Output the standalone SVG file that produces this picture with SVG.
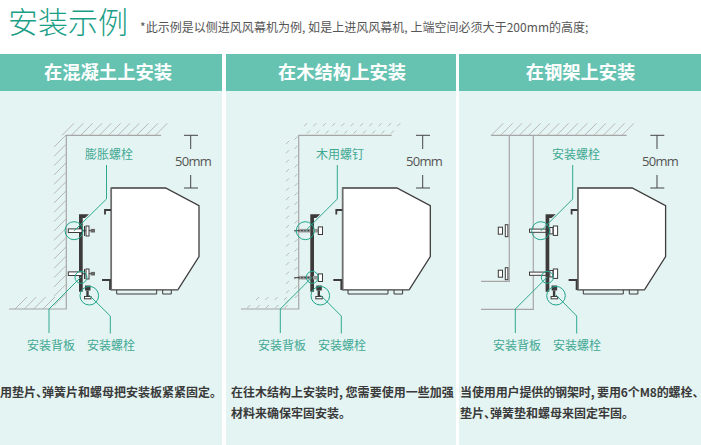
<svg xmlns="http://www.w3.org/2000/svg" xmlns:xlink="http://www.w3.org/1999/xlink" width="701" height="445" viewBox="0 0 701 445">
<style>
text{font-family:"Noto Sans CJK SC","Liberation Sans",sans-serif}
.band{fill:#66c3b2}.body{fill:#e4f4f2}
.hd{font-size:18.3px;font-weight:700;fill:#fff;text-anchor:middle}
.lb{font-size:12px;fill:#3fa893}
.desc{font-size:12px;font-weight:700;fill:#3a3a3a}
.half{font-feature-settings:"halt"}
.mm{font-family:"Open Sans","Liberation Sans",sans-serif;font-size:13px;fill:#555;letter-spacing:-.7px}
.wall{fill:none;stroke:#a6a6a6;stroke-width:1.2}
.hatch{fill:none;stroke:#b9b9b9;stroke-width:1}
.dim{fill:none;stroke:#444;stroke-width:1}
.lead{fill:none;stroke:#2fa890;stroke-width:1}
.ring{fill:none;stroke:#22a68c;stroke-width:1}
.dk{fill:none;stroke:#3c3a3a;stroke-width:1}
.wh{fill:#fff;stroke:#3c3a3a;stroke-width:1}
</style>
<defs>
<g id="unit">
<path d="M111.3,188H165.6L199,205.6V256.6L178,289.7H111.3Z" fill="#fff" stroke="#3f3d3d" stroke-width="1.3"/>
<path d="M111.3,188V289.7H178" fill="none" stroke="#6e6e6e" stroke-width="1.5"/>
<path d="M116.7,290V294H156.7V290M162.7,290V294H171.3V290" class="dk"/>
<path d="M105,214.5V210H111M102,280H110V290" fill="none" stroke="#3c3a3a" stroke-width="1.8"/>
<path d="M79,214.3H89L85,218H82.7V291.7H79Z" fill="#3c3a3a"/>
<rect x="85" y="285.5" width="5.5" height="5" fill="#3c3a3a"/>
<path d="M87.5,290.5V297" stroke="#3c3a3a" stroke-width="2.4"/>
<rect x="84.5" y="296.5" width="6.5" height="2.3" class="wh"/>
</g>
<g id="dims">
<path d="M184,135.3H198M190.7,135.3V149M190.7,175V188M184,188H198" class="dim"/>
</g>
<g id="boltA">
<rect x="68.3" y="-1.8" width="13.7" height="3.6" class="wh"/>
<path d="M82,0H91M84.5,-4.7V5.3" class="dk"/>
<rect x="86" y="-4.7" width="3" height="10" class="wh"/>
<rect x="90.7" y="-1.8" width="4.3" height="3.6" fill="#666"/>
</g>
<g id="boltB">
<path d="M294,0H300" stroke="#555" stroke-width="1.2"/>
<rect x="298" y="-1.8" width="12" height="3.6" fill="#9a9a9a"/>
<path d="M298,0H310" stroke="#3c3a3a" stroke-width="1.2" stroke-dasharray="1.6 1.6"/>
<rect x="313" y="-1.8" width="5.3" height="3.6" fill="#9a9a9a"/>
<rect x="318.3" y="-3.8" width="4.2" height="7.6" class="wh"/>
</g>
<g id="boltC">
<rect x="529.5" y="-1.6" width="16.5" height="3.2" class="wh"/>
<rect x="549.8" y="-3.2" width="3.2" height="6.4" class="wh"/>
<rect x="553.3" y="-4.7" width="4.3" height="9.4" class="wh"/>
<rect x="498.3" y="-3.5" width="4.2" height="7" class="wh"/>
<rect x="505.3" y="-6" width="2.6" height="12" class="wh"/>
</g>
</defs>
<rect width="701" height="445" fill="#fff"/>
<g id="title">
<text x="8" y="33" font-size="30" font-weight="300" fill="#1a9e87">安装示例</text>
<text x="140" y="32" font-size="12" fill="#555" letter-spacing=".03">*此示例是以侧进风风幕机为例, 如是上进风风幕机, 上端空间必须大于200mm的高度;</text>
</g>
<g id="panel1">
<rect class="body" x="0" y="91" width="222" height="354"/>
<rect class="band" x="0" y="54" width="222" height="37"/>
<text class="hd" x="108" y="79">在混凝土上安装</text>
<path class="hatch" d="M62,135.3l12-12m-2.67,12l12-12m-2.67,12l12-12m-2.67,12l12-12m-2.67,12l12-12m-2.67,12l12-12m-2.67,12l12-12m-2.67,12l12-12m-2.67,12l12-12m-2.67,12l12-12m-2.67,12l12-12"/>
<path class="hatch" d="M54,147l12-12m-12,21.33l12-12m-12,21.33l12-12m-12,21.33l12-12m-12,21.33l12-12m-12,21.33l12-12m-12,21.33l12-12m-12,21.33l12-12m-12,21.33l12-12m-12,21.33l12-12m-12,21.33l12-12m-12,21.33l12-12m-12,21.33l12-12m-12,21.33l12-12m-12,21.33l12-12m-12,21.33l12-12m-12,21.33l12-12m-12,21.33l12-12"/>
<path class="hatch" d="M15,309l12-12m-2.67,12l12-12m-2.67,12l12-12m-2.67,12l12-12"/>
<path class="wall" d="M161,135.3H66.3V309H9"/>
<use xlink:href="#dims" href="#dims"/>
<text class="mm" x="175" y="166">50mm</text>
<use xlink:href="#unit" href="#unit"/>
<use xlink:href="#boltA" href="#boltA" y="230.7"/>
<use xlink:href="#boltA" href="#boltA" y="273.7"/>
<text class="lb" x="85" y="159">膨胀螺栓</text>
<text class="lb" x="27" y="349.5">安装背板</text>
<text class="lb" x="87" y="349.5">安装螺栓</text>
<text class="desc" x="0" y="397">用垫片<tspan class="half">、</tspan>弹簧片和螺母把安装板紧紧固定。</text>
</g>
<g id="panel2">
<rect class="body" x="226" y="91" width="230" height="354"/>
<rect class="band" x="226" y="54" width="230" height="37"/>
<text class="hd" x="342" y="79">在木结构上安装</text>
<path class="hatch" d="M304,126.2l3-3m6.33,3l3-3m6.33,3l3-3m6.33,3l3-3m6.33,3l3-3m6.33,3l3-3m6.33,3l3-3m6.33,3l3-3m6.33,3l3-3m6.33,3l3-3m6.33,3l3-3"/>
<path class="hatch" d="M307,133.5l3-3m6.33,3l3-3m6.33,3l3-3m6.33,3l3-3m6.33,3l3-3m6.33,3l3-3m6.33,3l3-3m6.33,3l3-3m6.33,3l3-3m6.33,3l3-3"/>
<path class="hatch" d="M286,144l3-3m-3,12.33l3-3m-3,12.33l3-3m-3,12.33l3-3m-3,12.33l3-3m-3,12.33l3-3m-3,12.33l3-3m-3,12.33l3-3m-3,12.33l3-3m-3,12.33l3-3m-3,12.33l3-3m-3,12.33l3-3m-3,12.33l3-3m-3,12.33l3-3m-3,12.33l3-3m-3,12.33l3-3m-3,12.33l3-3m-3,12.33l3-3"/>
<path class="hatch" d="M294.5,139.5l3-3m-3,12.33l3-3m-3,12.33l3-3m-3,12.33l3-3m-3,12.33l3-3m-3,12.33l3-3m-3,12.33l3-3m-3,12.33l3-3m-3,12.33l3-3m-3,12.33l3-3m-3,12.33l3-3m-3,12.33l3-3m-3,12.33l3-3m-3,12.33l3-3m-3,12.33l3-3m-3,12.33l3-3m-3,12.33l3-3m-3,12.33l3-3"/>
<path class="hatch" d="M256,300l3-3m6.33,3l3-3m6.33,3l3-3m6.33,3l3-3"/>
<path class="hatch" d="M247.3,308l3-3m6.33,3l3-3m6.33,3l3-3m6.33,3l3-3m6.33,3l3-3"/>
<path class="wall" d="M391.7,135.3H298.7V309H241"/>
<use xlink:href="#dims" href="#dims" x="232"/>
<text class="mm" x="406" y="166">50mm</text>
<use xlink:href="#unit" href="#unit" x="231.3"/>
<use xlink:href="#boltB" href="#boltB" y="230.7"/>
<use xlink:href="#boltB" href="#boltB" y="277.7"/>
<text class="lb" x="316" y="159">木用螺钉</text>
<text class="lb" x="258" y="349.5">安装背板</text>
<text class="lb" x="318" y="349.5">安装螺栓</text>
<text class="desc" x="231" y="397">在往木结构上安装时, 您需要使用一些加强</text>
<text class="desc" x="231" y="418">材料来确保牢固安装。</text>
</g>
<g id="panel3">
<rect class="body" x="459" y="91" width="242" height="354"/>
<rect class="band" x="459" y="54" width="242" height="37"/>
<text class="hd" x="580.5" y="79">在钢架上安装</text>
<path class="hatch" d="M491.3,135.3l12-12m-2.67,12l12-12m-2.67,12l12-12m-2.67,12l12-12m-2.67,12l12-12m-2.67,12l12-12m-2.67,12l12-12m-2.67,12l12-12m-2.67,12l12-12m-2.67,12l12-12m-2.67,12l12-12m-2.67,12l12-12m-2.67,12l12-12m-2.67,12l12-12m-2.67,12l12-12"/>
<path class="wall" d="M491,135.3H626.7M509.3,135.3V281.3H481M533.3,135.3V309.3H481"/>
<use xlink:href="#dims" href="#dims" x="466.3"/>
<text class="mm" x="642" y="166">50mm</text>
<use xlink:href="#unit" href="#unit" x="466.6"/>
<use xlink:href="#boltC" href="#boltC" y="230.7"/>
<use xlink:href="#boltC" href="#boltC" y="273.7"/>
<text class="lb" x="552" y="159">安装螺栓</text>
<text class="lb" x="493" y="349.5">安装背板</text>
<text class="lb" x="553" y="349.5">安装螺栓</text>
<text class="desc" x="460" y="397" letter-spacing="-.12">当使用用户提供的钢架时, 要用6个M8的螺栓<tspan class="half">、</tspan></text>
<text class="desc" x="460" y="418">垫片<tspan class="half">、</tspan>弹簧垫和螺母来固定牢固。</text>
</g>
<g id="connectors">
<path class="lead" d="M106.5,165V199L74,231M49,333V309L81,277M110.3,333.5V316L89,295"/>
<circle class="ring" cx="74" cy="230.7" r="9"/><circle class="ring" cx="81" cy="277.3" r="6"/><circle class="ring" cx="89.3" cy="295.7" r="9.3"/>
<path class="lead" d="M337.3,165V199L305.3,231M280.3,333V309L312.3,277M341.3,333.5V316L320.3,295"/>
<circle class="ring" cx="305.3" cy="230.7" r="9"/><circle class="ring" cx="312.3" cy="277.3" r="6"/><circle class="ring" cx="320.3" cy="295.7" r="9.3"/>
<path class="lead" d="M572.7,165V199L540.7,231M515.3,333V309L547.3,277M576.7,333.5V316L556,295"/>
<circle class="ring" cx="540.7" cy="230.7" r="9"/><circle class="ring" cx="547.3" cy="277.3" r="6"/><circle class="ring" cx="556" cy="295.7" r="9.3"/>
</g>
</svg>
